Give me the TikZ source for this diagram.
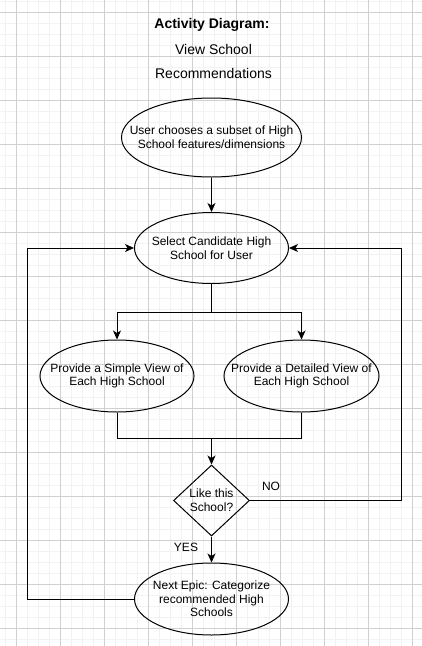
\documentclass[tikz,border=0pt]{standalone}
\usepackage{fontspec}
\setmainfont{Liberation Sans}
\usetikzlibrary{shapes.geometric,arrows.meta}
\definecolor{gridminor}{HTML}{F2F2F2}
\definecolor{gridmajor}{HTML}{D0D0D0}
\begin{document}
\begin{tikzpicture}[x=1pt,y=-1pt,
  shapebox/.style={draw=black,line width=1pt,inner sep=0pt},
  oval/.style={shapebox,ellipse},
  txt/.style={align=center,inner sep=0pt,font=\fontsize{12}{13.6}\selectfont},
  ttl/.style={align=center,inner sep=0pt,font=\fontsize{14}{16}\selectfont},
  conn/.style={line width=1pt,draw=black},
  arr/.style={conn,-{Stealth[length=9pt,width=8pt,inset=2.5pt]}}]
\useasboundingbox (0,0) rectangle (422,646);
\fill[white] (0,0) rectangle (422,646);
% grid
\foreach \i in {0,...,38} {
  \draw[gridminor,line width=1pt] ({5.5+11*\i},0) -- ({5.5+11*\i},646);
}
\foreach \i in {0,...,58} {
  \draw[gridminor,line width=1pt] (0,{1.5+11*\i}) -- (422,{1.5+11*\i});
}
\foreach \i in {0,...,9} {
  \draw[gridmajor,line width=1pt] ({16.5+44*\i},0) -- ({16.5+44*\i},646);
}
\foreach \i in {0,...,14} {
  \draw[gridmajor,line width=1pt] (0,{12.5+44*\i}) -- (422,{12.5+44*\i});
}
% title
\node[ttl,font=\fontsize{14}{16}\selectfont\bfseries] (t1) at (212,25) {Activity Diagram:};
\node[ttl] (t2) at (213.5,49) {View School};
\node[ttl] (t3) at (213.5,73) {Recommendations};
% shapes
\node[oval,minimum width=180,minimum height=79] (e1) at (211.5,137.5) {};
\node[txt] (e1t) at (e1) {User chooses a subset of High\\School features/dimensions};
\node[oval,minimum width=154,minimum height=71] (e2) at (211.5,248) {};
\node[txt] (e2t) at (e2) {Select Candidate High\\School for User};
\node[oval,minimum width=154,minimum height=72] (e3) at (117,376) {};
\node[txt] (e3t) at (e3) {Provide a Simple View of\\Each High School};
\node[oval,minimum width=155,minimum height=72] (e4) at (301.5,376) {};
\node[txt] (e4t) at (e4) {Provide a Detailed View of\\Each High School};
\node[shapebox,diamond,minimum width=76,minimum height=71] (d) at (211.5,500.5) {};
\node[txt] (dt) at (211.5,500) {Like this\\School?};
\node[oval,minimum width=154,minimum height=72] (e5) at (211.5,599) {};
\node[txt] (e5t) at (e5) {Next Epic: Categorize\\recommended High\\Schools};
% labels
\node[txt] (no) at (271,486) {NO};
\node[txt] (yes) at (186,547) {YES};
% connectors
\coordinate (b1) at (211.5,312);
\coordinate (j1) at (211.5,438);
\coordinate (rr) at (401,500.5);
\coordinate (ll) at (27,599);
\draw[arr] (e1.south) -- (e2.north);
\draw[conn] (e2.south) -- (b1);
\draw[arr] (b1) -| (e3.north);
\draw[arr] (b1) -| (e4.north);
\draw[conn] (e3.south) |- (j1);
\draw[conn] (e4.south) |- (j1);
\draw[arr] (j1) -- (d.north);
\draw[arr] (d.east) -- (rr) |- (e2.east);
\draw[arr] (d.south) -- (e5.north);
\draw[arr] (e5.west) -- (ll) |- (e2.west);
\end{tikzpicture}
\end{document}
